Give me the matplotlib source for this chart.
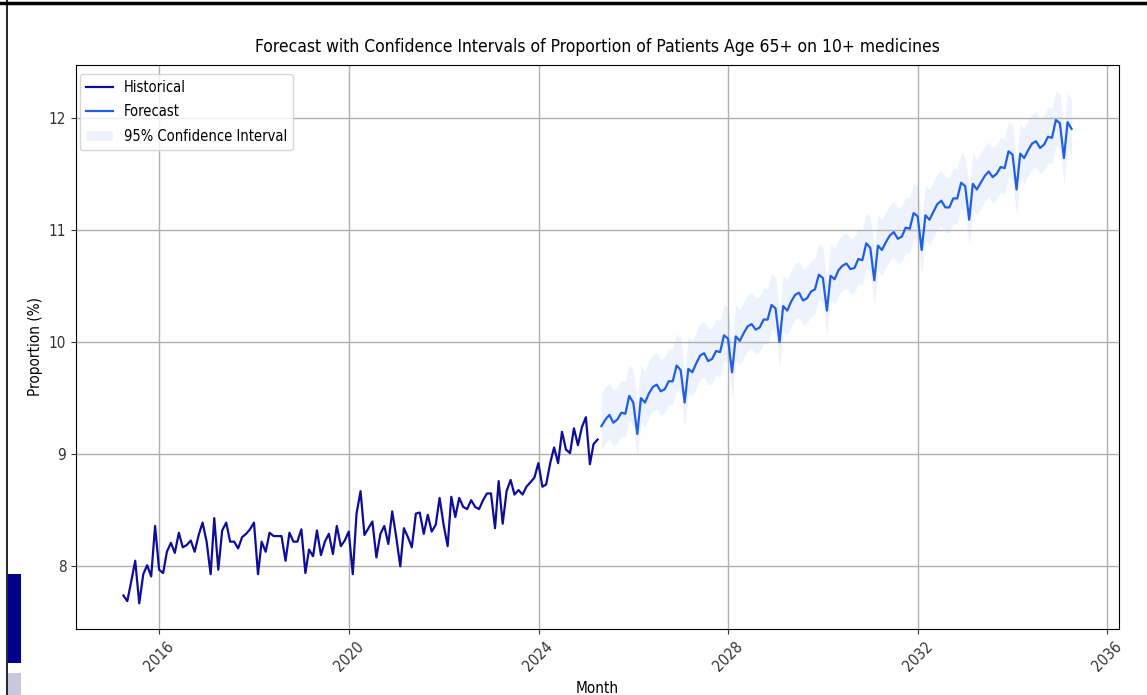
import matplotlib
matplotlib.use("Agg")
import matplotlib.pyplot as plt
import matplotlib.dates as mdates
from matplotlib.patches import Rectangle
from matplotlib.lines import Line2D
import numpy as np
import pandas as pd

# ---------------- data ----------------
hist_start = "2015-03-31"
hist_values = [
    7.74, 7.69, 7.87, 8.05, 7.67, 7.93, 8.01, 7.91, 8.36, 7.97,
    7.94, 8.13, 8.21, 8.12, 8.30, 8.17, 8.19, 8.23, 8.13, 8.28,
    8.39, 8.22, 7.93, 8.43, 7.97, 8.32, 8.39, 8.22, 8.22, 8.16,
    8.26, 8.29, 8.33, 8.39, 7.93, 8.22, 8.13, 8.30, 8.27, 8.27,
    8.27, 8.05, 8.30, 8.22, 8.22, 8.33, 7.94, 8.15, 8.09, 8.32,
    8.10, 8.22, 8.29, 8.11, 8.36, 8.18, 8.23, 8.31, 7.93, 8.47,
    8.67, 8.28, 8.34, 8.40, 8.08, 8.29, 8.36, 8.20, 8.49, 8.26,
    8.00, 8.34, 8.26, 8.17, 8.47, 8.48, 8.29, 8.46, 8.31, 8.37,
    8.61, 8.37, 8.18, 8.62, 8.44, 8.61, 8.53, 8.51, 8.59, 8.53,
    8.51, 8.59, 8.65, 8.65, 8.34, 8.76, 8.38, 8.67, 8.77, 8.64,
    8.68, 8.64, 8.71, 8.75, 8.79, 8.92, 8.71, 8.73, 8.92, 9.06,
    8.92, 9.20, 9.04, 9.01, 9.23, 9.08, 9.24, 9.33, 8.91, 9.09,
    9.13,
]

fc_start = "2025-04-30"
fc_values = [
    9.25, 9.31, 9.35, 9.28, 9.31, 9.37, 9.36, 9.52, 9.46, 9.18,
    9.50, 9.46, 9.54, 9.60, 9.62, 9.56, 9.58, 9.65, 9.65, 9.79,
    9.75, 9.46, 9.76, 9.73, 9.81, 9.88, 9.90, 9.83, 9.85, 9.92,
    9.91, 10.06, 10.03, 9.73, 10.05, 10.01, 10.08, 10.14, 10.16, 10.11,
    10.13, 10.20, 10.20, 10.33, 10.30, 10.00, 10.32, 10.28, 10.36, 10.42,
    10.44, 10.37, 10.39, 10.45, 10.47, 10.60, 10.57, 10.28, 10.59, 10.56,
    10.64, 10.68, 10.70, 10.65, 10.66, 10.74, 10.73, 10.88, 10.84, 10.55,
    10.86, 10.82, 10.89, 10.95, 10.98, 10.92, 10.94, 11.02, 11.01, 11.15,
    11.12, 10.82, 11.13, 11.09, 11.16, 11.23, 11.26, 11.20, 11.20, 11.28,
    11.28, 11.42, 11.39, 11.09, 11.41, 11.36, 11.42, 11.48, 11.52, 11.47,
    11.50, 11.56, 11.55, 11.70, 11.67, 11.36, 11.68, 11.64, 11.71, 11.77,
    11.79, 11.73, 11.76, 11.83, 11.82, 11.98, 11.95, 11.64, 11.96, 11.90,
]

# confidence band offsets (upper / lower distance from forecast), read at the band ends
ci_upper_offset = [0.29, 0.26]
ci_lower_offset = [0.21, 0.23]

title = "Forecast with Confidence Intervals of Proportion of Patients Age 65+ on 10+ medicines"
xlabel = "Month"
ylabel = "Proportion (%)"
legend_labels = ["Historical", "Forecast", "95% Confidence Interval"]

# ---------------- build ----------------
plt.rcParams["font.family"] = ["DejaVu Sans"]
plt.rcParams["font.stretch"] = "condensed"

hist_dates = pd.date_range(hist_start, periods=len(hist_values), freq="ME")
fc_dates = pd.date_range(fc_start, periods=len(fc_values), freq="ME")
fc = np.array(fc_values)
t = np.linspace(0, 1, len(fc))
up_off = np.interp(t, [0, 1], ci_upper_offset)
lo_off = np.interp(t, [0, 1], ci_lower_offset)

W, H = 1147, 695
fig = plt.figure(figsize=(W / 100, H / 100), dpi=100)
ax = fig.add_axes([76 / W, 1 - 629 / H, (1119 - 76) / W, (629 - 65) / H])

hist_color = "#0d0d9c"
fc_color = "#1f5fe6"

ax.plot(hist_dates, hist_values, color=hist_color, lw=1.6, label=legend_labels[0])
ax.plot(fc_dates, fc, color=fc_color, lw=1.6, label=legend_labels[1])
ax.fill_between(fc_dates, fc - lo_off, fc + up_off, color=fc_color, alpha=0.08,
                lw=0, label=legend_labels[2])

ax.set_title(title, fontsize=12.5, pad=9)
ax.set_xlabel(xlabel, fontsize=11, labelpad=5)
ax.set_ylabel(ylabel, fontsize=11)
ax.xaxis.set_major_locator(mdates.YearLocator(4))
ax.xaxis.set_major_formatter(mdates.DateFormatter("%Y"))
ax.set_yticks([8, 9, 10, 11, 12])
for lab in ax.get_xticklabels():
    lab.set_rotation(45)
ax.tick_params(labelsize=11, colors="#333333")
ax.grid(True, color="#b0b0b0", lw=1.0)
ax.legend(loc="upper left", bbox_to_anchor=(0.004, 0.984), borderaxespad=0,
          fontsize=10.5, framealpha=0.8, labelspacing=0.66,
          handlelength=1.85, handletextpad=0.75)

# screenshot frame artefacts
fig.add_artist(Line2D([0, 1], [1 - 3 / H, 1 - 3 / H], transform=fig.transFigure,
                      color="black", lw=2.5))
fig.add_artist(Line2D([7 / W, 7 / W], [0, 1], transform=fig.transFigure,
                      color="black", lw=1.2))
fig.add_artist(Rectangle((8 / W, 1 - 663 / H), 13 / W, 89 / H, transform=fig.transFigure,
                         color="#00008b", lw=0))
fig.add_artist(Rectangle((8 / W, 0), 13 / W, 22 / H, transform=fig.transFigure,
                         color="#c8c8dc", lw=0))

fig.savefig("out.png", dpi=100)
